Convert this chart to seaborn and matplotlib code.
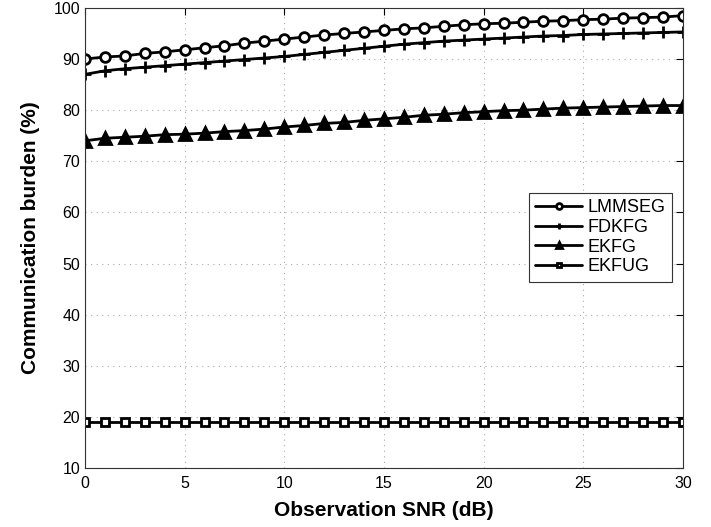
import numpy as np
import pandas as pd
import matplotlib
matplotlib.use("Agg")
import matplotlib.pyplot as plt
import seaborn as sns

# ── Data ──────────────────────────────────────────────────────────────────────
snr = list(range(0, 31))

lmmseg = [90.0, 90.4, 90.6, 91.1, 91.4, 91.8, 92.2, 92.6, 93.1, 93.5,
          93.9, 94.3, 94.7, 95.0, 95.3, 95.6, 95.9, 96.1, 96.4, 96.7,
          96.9, 97.0, 97.2, 97.4, 97.5, 97.7, 97.8, 98.0, 98.1, 98.2, 98.5]
fdkfg = [87.0, 87.7, 88.1, 88.4, 88.7, 89.0, 89.3, 89.6, 89.9, 90.2,
         90.5, 90.9, 91.3, 91.7, 92.1, 92.5, 92.9, 93.2, 93.5, 93.7,
         93.9, 94.1, 94.3, 94.5, 94.6, 94.8, 94.9, 95.0, 95.1, 95.2, 95.3]
ekfg = [74.0, 74.5, 74.7, 74.9, 75.2, 75.3, 75.5, 75.8, 76.0, 76.3,
        76.7, 77.0, 77.4, 77.6, 78.0, 78.3, 78.6, 79.0, 79.2, 79.5,
        79.7, 79.9, 80.0, 80.2, 80.4, 80.5, 80.6, 80.7, 80.8, 80.9, 80.9]
ekfug = [18.9] * 31

series_names = ["LMMSEG", "FDKFG", "EKFG", "EKFUG"]
series_vals = [lmmseg, fdkfg, ekfg, ekfug]
x_ticks = [0, 5, 10, 15, 20, 25, 30]
y_ticks = [10, 20, 30, 40, 50, 60, 70, 80, 90, 100]

df = pd.DataFrame({
    "snr": snr * len(series_names),
    "burden": sum(series_vals, []),
    "method": np.repeat(series_names, len(snr)),
})

# ── Plot ──────────────────────────────────────────────────────────────────────
sns.set_style("white")
plt.rcParams["font.family"] = ["Liberation Sans", "DejaVu Sans"]
plt.rcParams.update({"text.color": "black", "axes.labelcolor": "black",
                     "xtick.color": "black", "ytick.color": "black"})

fig = plt.figure(figsize=(7.11, 5.27), dpi=100)
ax = fig.add_axes([0.1195, 0.112, 0.841, 0.873])

styles = {
    "LMMSEG": dict(marker="o", mfc="white", ms=7),
    "FDKFG":  dict(marker="+", mfc="black", ms=8, mew=2),
    "EKFG":   dict(marker="^", mfc="black", ms=8),
    "EKFUG":  dict(marker="s", mfc="white", ms=6),
}
for name in series_names:
    sub = df[df["method"] == name]
    st = styles[name]
    sns.lineplot(data=sub, x="snr", y="burden", ax=ax, color="black",
                 lw=2, label=name, marker=st["marker"], markersize=st["ms"],
                 markerfacecolor=st["mfc"], markeredgecolor="black",
                 markeredgewidth=st.get("mew", 2))

ax.set_xlim(0, 30)
ax.set_ylim(10, 100)
ax.set_xticks(x_ticks)
ax.set_yticks(y_ticks)
ax.tick_params(direction="in", length=5, width=0.8, labelsize=11.5,
               top=True, right=True)
ax.tick_params(axis="x", pad=6)
ax.grid(True, ls=(0, (1, 4)), color="#aaaaaa", lw=0.8)
for s in ax.spines.values():
    s.set_color("#333333")
    s.set_linewidth(0.8)

ax.set_xlabel("Observation SNR (dB)", fontsize=15, fontweight="bold", labelpad=7)
ax.set_ylabel("Communication burden (%)", fontsize=15, fontweight="bold", labelpad=10)

leg = ax.legend(loc="upper right", bbox_to_anchor=(0.9816, 0.598), fontsize=13,
                fancybox=False, framealpha=1, edgecolor="#333333",
                handlelength=2.6, borderpad=0.35, labelspacing=0.15,
                handletextpad=0.3, markerscale=0.6, borderaxespad=0)
leg.get_frame().set_linewidth(0.8)

fig.savefig("out.png", dpi=100)
plt.close(fig)
